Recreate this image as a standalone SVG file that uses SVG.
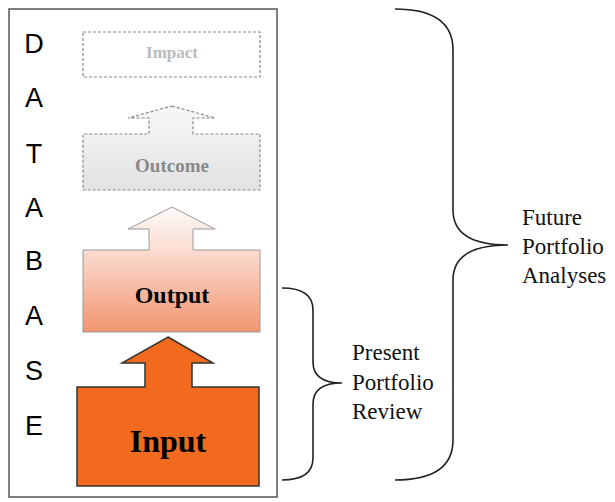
<svg xmlns="http://www.w3.org/2000/svg" width="615" height="502" viewBox="0 0 615 502">
<defs>
<linearGradient id="gOut" x1="0" y1="0" x2="0" y2="1"><stop offset="0" stop-color="#fcfafa"/><stop offset="0.35" stop-color="#fadcd0"/><stop offset="1" stop-color="#f2956f"/></linearGradient>
<linearGradient id="gOc" x1="0" y1="0" x2="0" y2="1"><stop offset="0" stop-color="#f8f8f8"/><stop offset="1" stop-color="#e2e2e2"/></linearGradient>
</defs>
<style>
.db{font-family:"Liberation Sans",Arial,sans-serif;font-size:27px;fill:#000;text-anchor:middle}
.lbl{font-family:"Liberation Serif","Times New Roman",serif;font-weight:bold;text-anchor:middle}
.br{fill:none;stroke:#222;stroke-width:1.6}
.rt{font-family:"Liberation Serif","Times New Roman",serif;font-size:23px;fill:#111}
.dash{stroke:#888;stroke-width:1.2;stroke-dasharray:3,2}
</style>
<rect width="615" height="502" fill="#fff"/>
<g id="database">
<rect x="9" y="9" width="268" height="488" fill="none" stroke="#555" stroke-width="1.5"/>
<text class="db" x="34" y="53">D</text>
<text class="db" x="34" y="107">A</text>
<text class="db" x="34" y="163">T</text>
<text class="db" x="34" y="217">A</text>
<text class="db" x="34" y="270">B</text>
<text class="db" x="34" y="325">A</text>
<text class="db" x="34" y="380">S</text>
<text class="db" x="34" y="435">E</text>
</g>
<g id="impact">
<rect x="83" y="32" width="177" height="45" fill="#fff" class="dash"/>
<text class="lbl" x="172" y="58" font-size="17" fill="#bbb">Impact</text>
</g>
<g id="outcome">
<polygon points="172,106 215,118 193,118 193,134 260,134 260,190 83,190 83,134 149,134 149,118 128,118" fill="url(#gOc)" class="dash"/>
<text class="lbl" x="172" y="172" font-size="19" fill="#888">Outcome</text>
</g>
<g id="output">
<polygon points="172,207 215,229 193,229 193,250 260,250 260,332 83,332 83,250 149,250 149,229 128,229" fill="url(#gOut)" stroke="#999" stroke-width="1"/>
<text class="lbl" x="172" y="303" font-size="24" fill="#000">Output</text>
</g>
<g id="input">
<polygon points="168,337 213,363 192,363 192,387 259,387 259,486 77,486 77,387 145,387 145,363 122,363" fill="#f26a1e" stroke="#333" stroke-width="1.5"/>
<text class="lbl" x="168" y="452" font-size="32" fill="#000">Input</text>
</g>
<g id="connectors">
<path class="br" d="M282,288 Q313,288 313,310 L313,362 Q313,383 342,383 Q313,383 313,404 L313,458 Q313,480 282,480"/>
<path class="br" d="M395,9 Q453,9 453,50 L453,210 Q453,245 508,245 Q453,245 453,280 L453,440 Q453,480 395,480"/>
</g>
<g id="present">
<text class="rt" x="352" y="360">Present</text>
<text class="rt" x="352" y="390">Portfolio</text>
<text class="rt" x="352" y="419">Review</text>
</g>
<g id="future">
<text class="rt" x="522" y="225">Future</text>
<text class="rt" x="522" y="254">Portfolio</text>
<text class="rt" x="522" y="283">Analyses</text>
</g>
</svg>
